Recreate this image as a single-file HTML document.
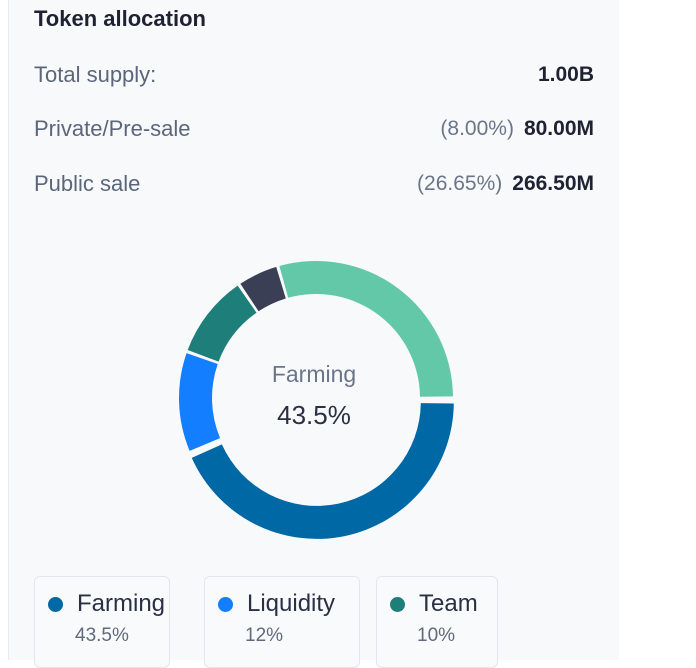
<!DOCTYPE html>
<html><head><meta charset="utf-8"><style>
body{margin:0;width:696px;height:660px;background:#fff;font-family:"Liberation Sans",sans-serif;overflow:hidden;position:relative}
.panel{position:absolute;left:8px;top:0;width:610px;height:660px;background:#f8f9fa;border-left:1px solid #e8eaee}
.t{position:absolute;white-space:nowrap}
.lbl{left:34px;font-size:22px;color:#5b667a}
.val{right:102px;font-size:21px;color:#1f2233;font-weight:bold}
.pct{font-weight:normal;color:#6b7589;margin-right:10px}
.leg{position:absolute;top:576px;height:90px;border:1px solid #e3e6ea;border-radius:6px;background:#f9fafb}
.dot{position:absolute;left:13px;top:20px;width:15px;height:15px;border-radius:50%}
.ln{position:absolute;left:42px;top:13px;font-size:24px;color:#2a2f44}
.lp{position:absolute;left:40px;top:48px;font-size:19px;color:#606a7c}
</style></head><body>
<div class="panel"></div>
<div class="t" style="left:34px;top:6px;font-size:22px;font-weight:bold;color:#1f2233">Token allocation</div>
<div class="t lbl" style="top:62px">Total supply:</div>
<div class="t val" style="top:63px">1.00B</div>
<div class="t lbl" style="top:116px">Private/Pre-sale</div>
<div class="t val" style="top:117px"><span class="pct">(8.00%)</span>80.00M</div>
<div class="t lbl" style="top:171px">Public sale</div>
<div class="t val" style="top:172px"><span class="pct">(26.65%)</span>266.50M</div>
<svg id="donut" width="696" height="660" style="position:absolute;left:0;top:0">
<text x="314" y="382" text-anchor="middle" font-size="23" fill="#6b7589" font-family="Liberation Sans, sans-serif">Farming</text>
<text x="314" y="424" text-anchor="middle" font-size="26" fill="#2a2f44" font-family="Liberation Sans, sans-serif">43.5%</text>
</svg>
<div class="leg" style="left:34px;width:134px"><div class="dot" style="background:#0068a5"></div><div class="ln">Farming</div><div class="lp">43.5%</div></div>
<div class="leg" style="left:204px;width:154px"><div class="dot" style="background:#137eff"></div><div class="ln">Liquidity</div><div class="lp">12%</div></div>
<div class="leg" style="left:376px;width:120px"><div class="dot" style="background:#1e7f7a"></div><div class="ln">Team</div><div class="lp">10%</div></div>
<script>
const categories=["Farming","Liquidity","Team","Advisors","Other"];
const values=[43.5,12,10,5,29.5];
const colors=["#0068a5","#137eff","#1e7f7a","#3a3f55","#63c8a8"];
const svg=document.getElementById('donut');
const cx=316,cy=398,R=137,r=104;
const total=values.reduce((a,b)=>a+b,0);
let a0=0;
values.forEach((v,i)=>{
  const span=v/total*2*Math.PI;
  const gap=0.012;
  const s=a0+gap,e=a0+span-gap;
  const mid=a0+span/2;
  const off=i===0?4:0;
  const ox=cx+off*Math.cos(mid),oy=cy+off*Math.sin(mid);
  const p=(rad,a)=>[ox+rad*Math.cos(a),oy+rad*Math.sin(a)];
  const large=(e-s)>Math.PI?1:0;
  const [x1,y1]=p(R,s),[x2,y2]=p(R,e),[x3,y3]=p(r,e),[x4,y4]=p(r,s);
  const path=document.createElementNS('http://www.w3.org/2000/svg','path');
  path.setAttribute('d',`M${x1},${y1}A${R},${R} 0 ${large} 1 ${x2},${y2}L${x3},${y3}A${r},${r} 0 ${large} 0 ${x4},${y4}Z`);
  path.setAttribute('fill',colors[i]);
  
  
  svg.insertBefore(path,svg.firstChild);
  a0+=span;
});
</script>
</body></html>
